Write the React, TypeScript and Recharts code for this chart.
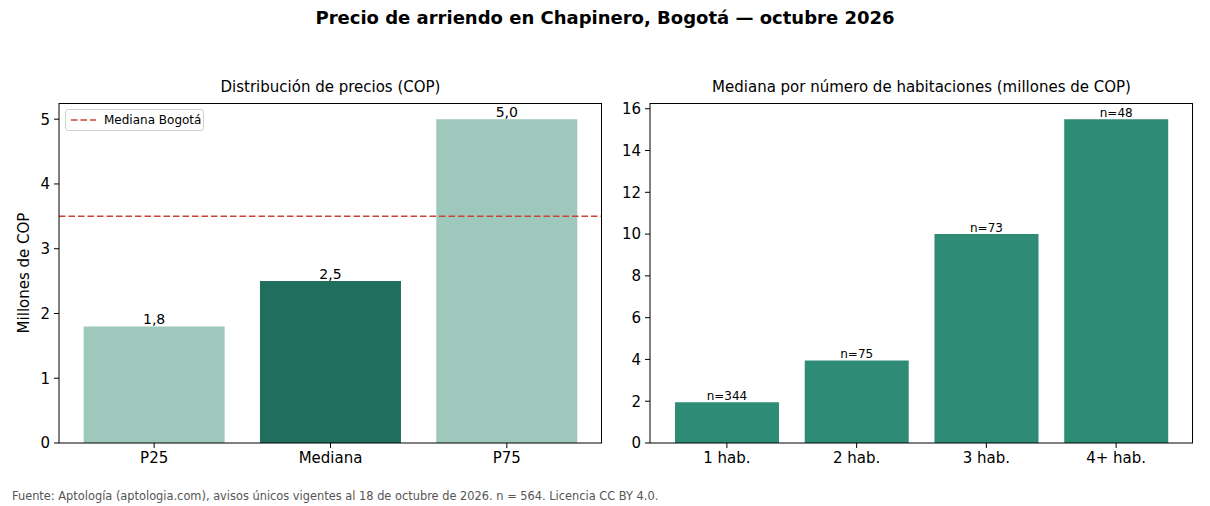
import { BarChart, Bar, XAxis, YAxis, Cell, LabelList, ReferenceLine } from 'recharts';

const priceLabels = ['P25', 'Mediana', 'P75'];
const priceValues = [1.8, 2.5, 5.0];
const bogotaMedian = 3.5;
const priceTicks = [0, 1, 2, 3, 4, 5];

const roomLabels = ['1 hab.', '2 hab.', '3 hab.', '4+ hab.'];
const roomMedians = [1.95, 3.95, 10.0, 15.5];
const roomCounts = [344, 75, 73, 48];
const roomTicks = [0, 2, 4, 6, 8, 10, 12, 14, 16];

const FONT = '"DejaVu Sans", sans-serif';
const LIGHT = '#9dc8bb';
const DARK = '#206e5e';
const ROOM = '#2e8b76';
const RED = '#c8453b';

const priceData = priceLabels.map((name, i) => ({
  name,
  value: priceValues[i],
  label: priceValues[i].toFixed(1).replace('.', ','),
}));

const roomData = roomLabels.map((name, i) => ({
  name,
  value: roomMedians[i],
  label: `n=${roomCounts[i]}`,
}));

const tickStyle = { fontSize: 15, fill: '#000', fontFamily: FONT };

// top + right spines, matplotlib style box
const Frame = ({ left }: { left: number }) => (
  <div
    style={{
      position: 'absolute',
      left,
      top: 103,
      width: 543,
      height: 340,
      boxSizing: 'border-box',
      borderTop: '1px solid #000',
      borderRight: '1px solid #000',
      pointerEvents: 'none',
    }}
  />
);

const App = () => {
  return (
    <div style={{ position: 'absolute', left: 0, top: 0, width: 1210, height: 506, background: '#fff', fontFamily: FONT, overflow: 'hidden' }}>
      <div style={{ position: 'absolute', top: 7, left: 0, width: 1210, textAlign: 'center', fontSize: 18, fontWeight: 'bold', color: '#000', lineHeight: '22px' }}>
        Precio de arriendo en Chapinero, Bogotá — octubre 2026
      </div>
      <div style={{ position: 'absolute', top: 78, left: 59, width: 543, textAlign: 'center', fontSize: 15, color: '#000', lineHeight: '18px' }}>
        Distribución de precios (COP)
      </div>
      <div style={{ position: 'absolute', top: 78, left: 650, width: 543, textAlign: 'center', fontSize: 15, color: '#000', lineHeight: '18px' }}>
        Mediana por número de habitaciones (millones de COP)
      </div>

      {/* left panel */}
      <div style={{ position: 'absolute', left: 0, top: 95 }}>
        <BarChart width={610} height={385} data={priceData} margin={{ top: 8, right: 8, bottom: 0, left: 0 }} barCategoryGap="10%">
          <XAxis
            dataKey="name"
            height={37}
            padding={{ left: 7, right: 7 }}
            tick={tickStyle}
            tickSize={5}
            tickMargin={4}
            axisLine={{ stroke: '#000' }}
            tickLine={{ stroke: '#000' }}
          />
          <YAxis
            width={59}
            domain={[0, 5.25]}
            ticks={priceTicks}
            tick={tickStyle}
            tickSize={5}
            tickMargin={4}
            axisLine={{ stroke: '#000' }}
            tickLine={{ stroke: '#000' }}
            label={{ value: 'Millones de COP', angle: -90, position: 'insideLeft', offset: 24, style: { textAnchor: 'middle', fontSize: 15, fill: '#000', fontFamily: FONT } }}
          />
          <Bar dataKey="value" isAnimationActive={false}>
            {priceData.map((d) => (
              <Cell key={d.name} fill={d.name === 'Mediana' ? DARK : LIGHT} />
            ))}
            <LabelList dataKey="label" position="top" offset={2} style={{ fontSize: 14, fill: '#000', fontFamily: FONT }} />
          </Bar>
          <ReferenceLine y={bogotaMedian} stroke={RED} strokeWidth={1.5} strokeDasharray="6.5 3" />
        </BarChart>
      </div>
      <Frame left={59} />
      <div style={{ position: 'absolute', left: 65, top: 109, width: 137, height: 20, border: '1px solid #d0d0d0', borderRadius: 3, background: 'rgba(255,255,255,0.8)', display: 'flex', alignItems: 'center', fontSize: 12, color: '#000' }}>
        <svg width={36} height={10}>
          <line x1={5} x2={30} y1={5} y2={5} stroke={RED} strokeWidth={1.5} strokeDasharray="6.5 3" />
        </svg>
        <span style={{ marginLeft: 2 }}>Mediana Bogotá</span>
      </div>

      {/* right panel */}
      <div style={{ position: 'absolute', left: 610, top: 95 }}>
        <BarChart width={600} height={385} data={roomData} margin={{ top: 8, right: 17, bottom: 0, left: 0 }} barCategoryGap="10%">
          <XAxis
            dataKey="name"
            height={37}
            padding={{ left: 12, right: 12 }}
            tick={tickStyle}
            tickSize={5}
            tickMargin={4}
            axisLine={{ stroke: '#000' }}
            tickLine={{ stroke: '#000' }}
          />
          <YAxis
            width={40}
            domain={[0, 16.275]}
            ticks={roomTicks}
            tick={tickStyle}
            tickSize={5}
            tickMargin={4}
            axisLine={{ stroke: '#000' }}
            tickLine={{ stroke: '#000' }}
          />
          <Bar dataKey="value" fill={ROOM} isAnimationActive={false}>
            <LabelList dataKey="label" position="top" offset={2} style={{ fontSize: 12, fill: '#000', fontFamily: FONT }} />
          </Bar>
        </BarChart>
      </div>
      <Frame left={650} />

      <div style={{ position: 'absolute', left: 12, top: 489, fontSize: 11.4, lineHeight: '14px', color: '#555', whiteSpace: 'nowrap' }}>
        Fuente: Aptología (aptologia.com), avisos únicos vigentes al 18 de octubre de 2026. n = 564. Licencia CC BY 4.0.
      </div>
    </div>
  );
};

export default App;
